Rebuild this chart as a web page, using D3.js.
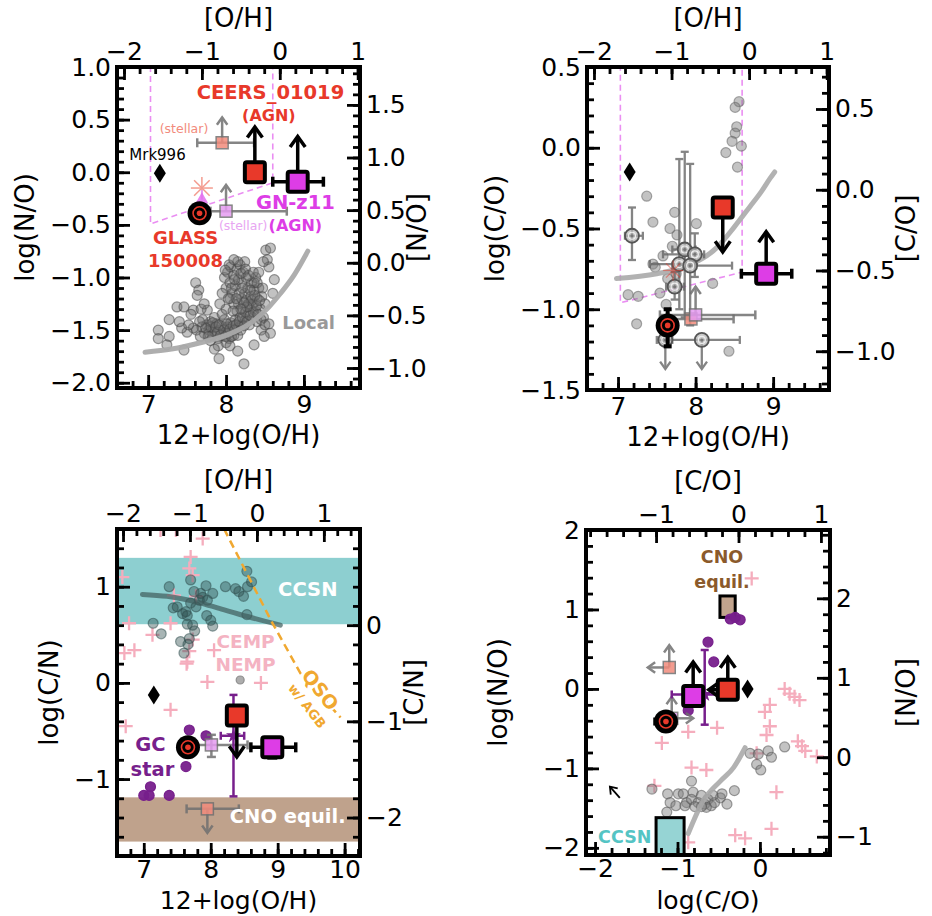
<!DOCTYPE html>
<html>
<head>
<meta charset="utf-8">
<script src="https://cdn.jsdelivr.net/npm/d3@7"></script>
<style>
  body { margin: 0; background: #fff; }
  svg { display: block; }
</style>
</head>
<body>
<script>
// ---------- data: panel 1, log(N/O) vs 12+log(O/H) ----------
const p1Local = [
  [7.75,-1.45],[7.78,-1.50],[7.80,-1.42],[7.82,-1.55],[7.84,-1.48],[7.86,-1.52],[7.88,-1.44],[7.90,-1.58],
  [7.92,-1.50],[7.94,-1.46],[7.96,-1.55],[7.98,-1.40],[8.00,-1.52],[8.02,-1.47],[8.04,-1.58],[8.06,-1.43],
  [8.08,-1.50],[8.10,-1.55],[7.85,-1.38],[7.95,-1.35],[8.00,-1.62],[7.90,-1.65],[8.05,-1.65],[7.80,-1.60],
  [7.72,-1.53],[7.70,-1.40],
  [8.12,-1.40],[8.14,-1.32],[8.15,-1.48],[8.16,-1.25],[8.18,-1.38],[8.20,-1.20],[8.20,-1.45],[8.22,-1.30],
  [8.24,-1.15],[8.25,-1.40],[8.26,-1.22],[8.28,-1.35],[8.28,-1.10],[8.30,-1.28],[8.30,-1.45],[8.32,-1.18],
  [8.33,-1.05],[8.34,-1.38],[8.35,-1.25],[8.36,-1.12],[8.38,-1.32],[8.38,-1.00],[8.40,-1.20],[8.40,-1.42],
  [8.42,-1.10],[8.44,-1.30],[8.45,-1.50],[8.46,-1.18],[8.48,-1.38],[8.50,-1.25],
  [7.98,-1.00],[8.00,-1.10],[8.02,-0.95],[8.05,-1.05],[8.06,-0.90],[8.08,-1.15],[8.10,-0.98],[8.12,-1.08],
  [8.14,-0.92],[8.16,-1.02],[8.18,-0.88],[8.20,-1.05],[8.22,-0.95],[8.24,-0.85],[8.26,-1.00],[8.05,-1.20],
  [7.95,-1.15],[8.10,-1.25],[8.00,-1.30],[7.92,-1.25],
  [7.80,-1.47],[7.83,-1.43],[7.87,-1.47],[7.89,-1.52],[7.91,-1.45],[7.93,-1.55],[7.97,-1.50],[7.99,-1.56],
  [8.01,-1.44],[8.03,-1.53],[8.05,-1.49],[8.07,-1.56],[8.09,-1.46],[8.11,-1.50],[8.13,-1.45],[8.15,-1.55],
  [8.17,-1.42],[8.19,-1.50],[8.21,-1.38],[8.23,-1.46],[8.25,-1.33],[8.27,-1.42],[8.29,-1.25],[8.31,-1.36],
  [8.33,-1.22],[8.35,-1.33],[8.37,-1.17],[8.39,-1.27],[8.41,-1.35],[8.43,-1.22],[8.36,-1.05],[8.31,-1.12],
  [8.27,-1.28],[8.23,-1.24],[8.19,-1.30],[8.17,-1.15],[8.13,-1.20],[8.09,-1.32],[8.07,-1.10],[8.03,-1.20],
  [8.11,-1.02],[8.21,-1.10],[8.19,-0.96],[8.15,-0.85],[8.25,-0.92],[8.29,-0.98],[8.04,-0.88],[7.99,-0.93],
  [8.35,-0.95],[8.40,-1.05],[8.45,-1.40],[8.50,-1.45],[8.47,-1.10],[7.74,-1.48],[7.77,-1.56],[7.69,-1.47],
  [7.66,-1.42],[7.62,-1.50],[7.58,-1.48],[7.50,-1.52],
  [7.13,-1.50],[7.13,-1.58],[7.27,-1.40],[7.27,-1.56],[7.24,-1.64],[7.37,-1.28],[7.46,-1.28],[7.46,-1.69],
  [7.43,-1.48],[7.52,-1.45],[7.61,-1.05],[7.65,-1.12],[7.63,-1.17],[7.58,-1.31],[7.76,-1.31],[7.67,-1.56],
  [7.91,-1.77],[8.23,-1.82],[8.36,-1.64],[8.10,-0.83],[8.51,-0.74],[8.57,-0.72],[8.53,-0.83],[8.55,-0.90],
  [8.62,-1.02],[8.55,-1.44],[8.57,-1.53],[8.49,-1.56],[7.55,-1.35],[7.40,-1.42],[7.68,-1.30],[7.72,-1.25],
  [8.60,-1.15],[7.85,-1.68],[8.15,-1.70],[8.42,-0.95],[8.48,-0.85]
];
const p1LocalCurve = [[6.96,-1.71],[7.3,-1.68],[7.67,-1.62],[8.0,-1.55],[8.32,-1.43],[8.55,-1.28],[8.70,-1.15],[8.88,-0.97],[9.05,-0.75]];
const p1Box = [[7.03,1.2],[7.03,-0.49],[8.6,-0.10],[8.6,1.2]];
const p1Marks = [
  {id: 'ceersStellar', x: 7.95, y: 0.28, xe: [7.63, 8.36], up: 0.52},
  {id: 'gnStellar', x: 8.0, y: -0.37, xe: [7.8, 8.78], up: -0.12},
  {id: 'glass', x: 7.66, y: -0.39, xe: [7.58, 7.76]},
  {id: 'ceersAGN', x: 8.37, y: 0.0, up: 0.43},
  {id: 'gnAGN', x: 8.92, y: -0.09, xe: [8.6, 9.25], up: 0.34},
  {id: 'mrk', x: 7.15, y: -0.01}
];
const p1Aster = [7.69, -0.15];
const p1Tri = [7.69, -0.26];

// ---------- data: panel 2, log(C/O) vs 12+log(O/H) ----------
const p2Points = [
  [8.56,0.285],[8.51,0.25],[8.53,0.13],[8.51,0.09],[8.47,0.04],[8.59,0.01],[8.39,-0.03],[8.54,-0.12],
  [7.37,-0.30],[7.45,-0.46],[7.73,-0.40],[7.67,-0.50],[8.01,-0.47],[7.76,-0.54],[7.58,-0.67],[7.45,-0.72],
  [7.48,-0.74],[7.64,-0.81],[7.13,-0.91],[7.26,-0.92],[7.54,-0.90],[7.62,-0.97],[8.22,-0.84],[7.24,-1.09],
  [8.43,-1.26],[7.75,-0.78],[7.70,-0.61]
];
// x, y, xlo, xhi, ylo, yhi
const p2ErrPoints = [
  [7.18,-0.545,7.09,7.32,-0.695,-0.37],
  [7.86,-0.63,7.70,8.00,-1.05,-0.025],
  [7.99,-0.66,7.58,8.11,-0.80,-0.53],
  [7.79,-0.72,7.41,8.00,-1.00,-0.07],
  [7.93,-0.73,7.70,8.47,-1.10,-0.10],
  [7.73,-0.86,7.62,7.85,-0.94,-0.77],
  [8.08,-1.19,7.58,8.57,-1.19,-1.19],
  [7.61,-1.19,7.50,7.70,-1.19,-1.19]
];
const p2ErrDown = [[7.61,-1.19,-1.37],[8.08,-1.19,-1.37]];
const p2Curve = [[6.98,-0.81],[7.5,-0.78],[7.9,-0.73],[8.27,-0.62],[8.5,-0.49],[8.7,-0.365],[8.85,-0.27],[8.96,-0.19],[9.02,-0.15]];
const p2Box = [[7.03,0.7],[7.03,-0.96],[8.6,-0.77],[8.6,0.7]];
const p2Marks = [
  {id: 'ceersStellar', x: 7.94, y: -1.06, xe: [7.56, 8.49]},
  {id: 'gnStellar', x: 8.0, y: -1.035, xe: [7.54, 8.77], up: -0.86},
  {id: 'glass', x: 7.64, y: -1.10, ye: [-1.23, -1.0]},
  {id: 'ceersAGN', x: 8.35, y: -0.37, down: -0.645},
  {id: 'gnAGN', x: 8.91, y: -0.78, xe: [8.59, 9.24], up: -0.52},
  {id: 'mrk', x: 7.15, y: -0.15}
];
const p2Aster = [7.71, -0.76];

// ---------- data: panel 3, log(C/N) vs 12+log(O/H) ----------
const p3Points = [
  [7.38,1.00],[7.50,0.79],[7.44,0.78],[7.63,0.74],[7.70,0.83],[7.75,0.95],[7.70,1.07],[7.78,0.79],
  [7.83,0.86],[7.93,1.01],[7.88,0.89],[7.95,0.86],[8.03,0.93],[7.94,0.70],[8.00,0.65],[7.65,0.70],
  [7.58,0.72],[7.14,0.62],[7.26,0.51],[7.65,0.61],[7.73,0.60],[7.76,0.54],[7.68,0.46],[7.55,0.43],
  [7.60,0.31],[7.66,0.40],[8.22,1.00],[8.37,0.98],[8.42,0.95],[8.49,0.90],[8.54,1.16],[8.61,1.05],
  [8.55,1.00],[8.54,0.71],[8.03,0.59],[7.85,0.93]
];
const p3Grey = [[8.44,0.03]];
const p3Curve = [[6.98,0.92],[7.35,0.90],[7.85,0.83],[8.10,0.78],[8.55,0.69],[9.04,0.60]];
const p3Plus = [
  [7.25,1.59],[7.48,1.59],[7.88,1.50],[7.70,1.31],[7.68,1.19],[7.73,1.12],[6.68,1.10],[7.45,0.91],
  [7.78,0.90],[6.78,0.62],[7.40,0.62],[7.13,0.50],[7.73,0.45],[7.68,0.33],[6.86,0.34],[6.71,0.31],
  [8.05,0.34],[7.65,0.22],[7.95,0.01],[8.75,0.00],[7.40,-0.28],[6.73,-0.45],[7.64,0.20]
];
const p3GC = [[7.68,-0.49],[7.93,-0.55],[7.63,-0.87],[7.10,-1.08],[7.00,-1.17],[7.08,-1.17],[7.38,-1.17]];
const p3CCSN = [0.61, 1.30];
const p3CNO = [-1.65, -1.19];
const p3QSO = [[8.20,1.60],[8.90,0.65],[9.34,0.10],[9.94,-0.36]];
const p3Marks = [
  {id: 'ceersStellar', x: 7.95, y: -1.31, xe: [7.64, 8.42], down: -1.56},
  {id: 'gnStellar', x: 8.01, y: -0.645, xe: [7.78, 8.55], ye: [-0.77, -0.54]},
  {id: 'gcStar', x: 8.34, y: -0.55, xe: [8.15, 8.50], ye: [-1.18, -0.125]},
  {id: 'glass', x: 7.66, y: -0.67},
  {id: 'ceersAGN', x: 8.39, y: -0.34, down: -0.77},
  {id: 'gnAGN', x: 8.92, y: -0.67, xe: [8.60, 9.27], ye: [-0.78, -0.58]},
  {id: 'mrk', x: 7.15, y: -0.125}
];

// ---------- data: panel 4, log(N/O) vs log(C/O) ----------
const p4Points = [
  [-1.13,-1.55],[-1.12,-1.32],[-1.09,-1.43],[-1.02,-1.47],[-0.99,-1.32],[-0.93,-1.32],[-0.89,-1.43],[-0.91,-1.47],
  [-0.83,-1.16],[-0.81,-1.30],[-0.83,-1.39],[-0.75,-1.43],[-0.71,-1.34],[-0.67,-1.45],[-0.63,-1.39],[-0.59,-1.47],
  [-0.55,-1.43],[-0.48,-1.37],[-0.46,-1.32],[-0.40,-1.45],[-0.31,-1.28],[-0.57,-1.34],[-0.65,-1.49],[-0.71,-1.48],
  [-0.79,-1.48],[-0.12,-0.81],[-0.02,-0.82],[0.10,-0.78],[0.14,-0.86],[0.30,-0.73],[-0.04,-0.95],[0.01,-1.02],
  [-1.31,-1.26]
];
const p4Curve = [[-0.87,-1.82],[-0.69,-1.41],[-0.48,-1.16],[-0.32,-0.99],[-0.18,-0.74]];
const p4Plus = [
  [0.30,0.00],[0.36,-0.06],[0.42,-0.10],[0.48,-0.14],[0.12,-0.20],[0.06,-0.29],[0.12,-0.47],[0.08,-0.58],
  [0.46,-0.66],[0.51,-0.72],[0.55,-0.78],[0.69,-0.85],[-0.04,-0.81],[0.20,-1.30],[0.14,-1.76],[-0.30,-1.84],
  [-0.18,-1.88],[-0.87,-1.93],[-0.83,-0.99],[-0.65,-1.02],[-1.28,-1.22],[-1.19,-0.68],[-0.87,-0.54],[-0.52,-0.49],
  [-0.10,1.39]
];
const p4GC = [[-0.63,0.59],[-0.56,0.34],[-0.36,0.88],[-0.24,0.87],[-0.30,0.90],[-0.87,-0.27],[-1.07,-0.37]];
const p4CNOBox = [[-0.485, 0.90], [-0.30, 1.17]];
const p4CCSNBox = [[-1.26, -2.2], [-0.92, -1.62]];
const p4Hint = [[-1.70,-1.37],[-1.82,-1.23]];
const p4Marks = [
  {id: 'ceersStellar', x: -1.10, y: 0.27, left: -1.36, up: 0.55},
  {id: 'gnStellar', x: -1.07, y: -0.37, right: -0.81, up: -0.10},
  {id: 'gcStar', x: -0.67, y: -0.07, xe: [-1.07, -0.40], ye: [-0.45, 0.49]},
  {id: 'glass', x: -1.14, y: -0.41, xe: [-1.27, -1.05]},
  {id: 'ceersAGN', x: -0.39, y: -0.01, up: 0.40, left: -0.62},
  {id: 'gnAGN', x: -0.81, y: -0.09, up: 0.34},
  {id: 'mrk', x: -0.15, y: 0.0}
];

// ---------- styles ----------
const RED = '#e8392a', MAG = '#dd3de6', PURPLE = '#771f8c', PINK = '#f5adbd';
const STYLE = {
  ceersStellar: {shape: 'sq', size: 12, fill: '#f28b7c', stroke: '#707070', sw: 1.5, err: '#707070', ew: 2.5, cap: 9, op: 0.85},
  gnStellar: {shape: 'sq', size: 12, fill: '#e69cf2', stroke: '#707070', sw: 1.5, err: '#707070', ew: 2.5, cap: 9, op: 0.85},
  glass: {shape: 'glass', err: '#000', ew: 4, cap: 8, op: 1},
  ceersAGN: {shape: 'sq', size: 20, fill: RED, stroke: '#000', sw: 4, err: '#000', ew: 3.5, cap: 10, op: 1},
  gnAGN: {shape: 'sq', size: 20, fill: MAG, stroke: '#000', sw: 4, err: '#000', ew: 3.5, cap: 10, op: 1},
  gcStar: {shape: 'star', fill: PURPLE, err: PURPLE, ew: 2.5, cap: 8, op: 1},
  mrk: {shape: 'diamond'}
};

const svg = d3.select('body').append('svg')
  .attr('width', 932).attr('height', 916)
  .attr('font-family', 'DejaVu Sans');
const defs = svg.append('defs');

function ticksBy(dom, step) {
  const out = [];
  for (let k = Math.ceil(dom[0] / step - 1e-6); k <= Math.floor(dom[1] / step + 1e-6); k++) out.push(+(k * step).toFixed(4));
  return out;
}

function makePanel(p) {
  const w = p.right - p.left, h = p.bottom - p.top;
  const g = svg.append('g').attr('transform', `translate(${p.left},${p.top})`);
  const x = d3.scaleLinear().domain(p.xDom).range([0, w]);
  const y = d3.scaleLinear().domain(p.yDom).range([h, 0]);
  defs.append('clipPath').attr('id', 'clip' + p.id)
    .append('rect').attr('width', w).attr('height', h);
  const plot = g.append('g').attr('clip-path', `url(#clip${p.id})`);
  return {g, plot, x, y, w, h, p};
}

function side(g, axisFn, scale, tr, maj, minStep, fmt, pad) {
  const mk = () => { const s = g.append('g'); if (tr) s.attr('transform', tr); return s; };
  const a = mk().call(axisFn(scale).tickValues(ticksBy(scale.domain(), minStep)).tickSize(-7).tickFormat(''));
  const b = mk().call(axisFn(scale).tickValues(maj).tickSize(-13).tickPadding(pad).tickFormat(fmt));
  [a, b].forEach(s => {
    s.select('.domain').remove();
    s.selectAll('line').attr('stroke-width', 2.8);
    s.attr('font-size', 25).attr('font-family', 'DejaVu Sans');
  });
}

function axes(P, s) {
  const {g, x, y, w, h} = P;
  const xt = d3.scaleLinear().domain(x.domain().map(v => v + s.topOff)).range([0, w]);
  const yr = d3.scaleLinear().domain(y.domain().map(v => v + s.rightOff)).range([h, 0]);
  side(g, d3.axisBottom, x, `translate(0,${h})`, s.xMaj, s.xMin, s.xFmt, s.xPad);
  side(g, d3.axisTop, xt, null, s.tMaj, s.tMin, d3.format('d'), 7);
  side(g, d3.axisLeft, y, null, s.yMaj, s.yMin, s.yFmt, 6);
  side(g, d3.axisRight, yr, `translate(${w},0)`, s.rMaj, s.rMin, s.rFmt, 6);
  g.append('rect').attr('width', w).attr('height', h)
    .attr('fill', 'none').attr('stroke', '#000').attr('stroke-width', 4);
  const lab = (t, tx, ty, rot, size) => g.append('text').text(t)
    .attr('transform', `translate(${tx},${ty})` + (rot ? ' rotate(-90)' : ''))
    .attr('text-anchor', 'middle').attr('dominant-baseline', 'central')
    .attr('font-size', size || 26).attr('fill', '#000');
  lab(s.labels[0], w / 2, h + s.bottomY, false, s.bottomSize);
  lab(s.labels[1], w / 2, -49, false);
  lab(s.labels[2], s.leftX, h / 2, true);
  lab(s.labels[3], w + s.rightX, h / 2, true);
}

function arrow(sel, x1, y1, x2, y2, color, sw, op, head) {
  const L = head || 11, ang = Math.atan2(y2 - y1, x2 - x1), a = 0.62;
  const gg = sel.append('g').attr('stroke', color).attr('stroke-width', sw)
    .attr('fill', 'none').attr('opacity', op).attr('stroke-linecap', 'butt');
  gg.append('line').attr('x1', x1).attr('y1', y1).attr('x2', x2).attr('y2', y2);
  gg.append('polyline').attr('stroke-linejoin', 'miter').attr('points', [
    [x2 - L * Math.cos(ang - a), y2 - L * Math.sin(ang - a)], [x2, y2],
    [x2 - L * Math.cos(ang + a), y2 - L * Math.sin(ang + a)]
  ].map(q => q.join(',')).join(' '));
}

function errX(sel, x0, x1, yy, color, sw, cap, op) {
  const gg = sel.append('g').attr('stroke', color).attr('stroke-width', sw).attr('opacity', op);
  gg.append('line').attr('x1', x0).attr('x2', x1).attr('y1', yy).attr('y2', yy);
  if (cap) [x0, x1].forEach(v => gg.append('line').attr('x1', v).attr('x2', v).attr('y1', yy - cap / 2).attr('y2', yy + cap / 2));
}
function errY(sel, xx, y0, y1, color, sw, cap, op) {
  const gg = sel.append('g').attr('stroke', color).attr('stroke-width', sw).attr('opacity', op);
  gg.append('line').attr('x1', xx).attr('x2', xx).attr('y1', y0).attr('y2', y1);
  if (cap) [y0, y1].forEach(v => gg.append('line').attr('y1', v).attr('y2', v).attr('x1', xx - cap / 2).attr('x2', xx + cap / 2));
}

function drawMarks(P, marks) {
  const s = P.plot;
  marks.forEach(m => {
    const st = STYLE[m.id];
    const cx = P.x(m.x), cy = P.y(m.y);
    const big = st.shape === 'sq' && st.size > 15;
    if (m.xe) errX(s, P.x(m.xe[0]), P.x(m.xe[1]), cy, st.err, st.ew, st.cap, st.op);
    if (m.ye) errY(s, cx, P.y(m.ye[0]), P.y(m.ye[1]), st.err, st.ew, st.cap, st.op);
    const hd = big ? 13 : 9;
    if (m.up != null) arrow(s, cx, cy, cx, P.y(m.up), st.err, st.ew, st.op, hd);
    if (m.down != null) arrow(s, cx, cy, cx, P.y(m.down), st.err, st.ew, st.op, hd);
    if (m.left != null) arrow(s, cx, cy, P.x(m.left), cy, st.err, st.ew, st.op, hd);
    if (m.right != null) arrow(s, cx, cy, P.x(m.right), cy, st.err, st.ew, st.op, hd);
    if (st.shape === 'sq') {
      s.append('rect').attr('x', cx - st.size / 2).attr('y', cy - st.size / 2)
        .attr('width', st.size).attr('height', st.size).attr('rx', big ? 2 : 0)
        .attr('fill', st.fill).attr('stroke', st.stroke).attr('stroke-width', st.sw)
        .attr('opacity', st.op);
    } else if (st.shape === 'glass') {
      s.append('circle').attr('cx', cx).attr('cy', cy).attr('r', 12).attr('fill', '#000');
      s.append('circle').attr('cx', cx).attr('cy', cy).attr('r', 6.5).attr('fill', 'none')
        .attr('stroke', RED).attr('stroke-width', 1.6);
      s.append('circle').attr('cx', cx).attr('cy', cy).attr('r', 2.8).attr('fill', RED);
    } else if (st.shape === 'star') {
      s.append('path').attr('transform', `translate(${cx},${cy})`)
        .attr('d', d3.symbol(d3.symbolStar, 70)()).attr('fill', st.fill);
    } else if (st.shape === 'diamond') {
      s.append('path').attr('d', `M${cx},${cy - 9.5}L${cx + 6},${cy}L${cx},${cy + 9.5}L${cx - 6},${cy}Z`)
        .attr('fill', '#000');
    }
  });
}

function dots(P, data, fill, stroke, r, op) {
  P.plot.append('g').selectAll('circle').data(data).join('circle')
    .attr('cx', d => P.x(d[0])).attr('cy', d => P.y(d[1])).attr('r', r)
    .attr('fill', fill).attr('fill-opacity', op)
    .attr('stroke', stroke).attr('stroke-opacity', op + 0.1).attr('stroke-width', 1.2);
}
function pluses(P, data) {
  P.plot.append('g').attr('stroke', PINK).attr('stroke-width', 2.3)
    .selectAll('path').data(data).join('path')
    .attr('d', d => { const a = P.x(d[0]), b = P.y(d[1]); return `M${a - 7},${b}H${a + 7}M${a},${b - 7}V${b + 7}`; });
}
function curve(P, data, color, width, op) {
  P.plot.append('path').datum(data)
    .attr('d', d3.line().x(d => P.x(d[0])).y(d => P.y(d[1])).curve(d3.curveMonotoneX))
    .attr('fill', 'none').attr('stroke', color).attr('stroke-width', width)
    .attr('stroke-opacity', op).attr('stroke-linecap', 'round');
}
function boxLine(P, data) {
  P.plot.append('path').datum(data)
    .attr('d', d3.line().x(d => P.x(d[0])).y(d => P.y(d[1])))
    .attr('fill', 'none').attr('stroke', '#ea8ef2').attr('stroke-width', 1.6)
    .attr('stroke-dasharray', '6,4');
}
function aster(P, d, color, r, sw, op) {
  const cx = P.x(d[0]), cy = P.y(d[1]);
  const gg = P.plot.append('g').attr('stroke', color).attr('stroke-width', sw).attr('opacity', op);
  for (let k = 0; k < 4; k++) {
    const a = k * Math.PI / 4;
    gg.append('line').attr('x1', cx - r * Math.cos(a)).attr('y1', cy - r * Math.sin(a))
      .attr('x2', cx + r * Math.cos(a)).attr('y2', cy + r * Math.sin(a));
  }
}
function note(P, t, d, color, size, weight, rot) {
  const tx = P.x(d[0]), ty = P.y(d[1]);
  return P.g.append('text').text(t)
    .attr('transform', `translate(${tx},${ty})` + (rot ? ` rotate(${rot})` : ''))
    .attr('text-anchor', 'middle').attr('dominant-baseline', 'central')
    .attr('fill', color).attr('font-size', size).attr('font-weight', weight || 'normal');
}

const f1 = d3.format('.1f'), fd = d3.format('d');

// ---------- panel 1 ----------
const P1 = makePanel({id: 1, left: 117, right: 360, top: 67, bottom: 388, xDom: [6.6, 9.72], yDom: [-2.05, 1.0]});
boxLine(P1, p1Box);
dots(P1, p1Local, '#6e6e6e', '#444', 5, 0.42);
curve(P1, p1LocalCurve, '#aaaaaa', 5, 0.95);
aster(P1, p1Aster, '#f28b7c', 11, 1.5, 0.85);
P1.plot.append('line').attr('x1', P1.x(p1Tri[0])).attr('x2', P1.x(p1Aster[0]))
  .attr('y1', P1.y(p1Tri[1])).attr('y2', P1.y(p1Aster[1]) + 2)
  .attr('stroke', '#e69cf2').attr('stroke-width', 2);
P1.plot.append('path').attr('transform', `translate(${P1.x(p1Tri[0])},${P1.y(p1Tri[1])})`)
  .attr('d', d3.symbol(d3.symbolTriangle, 70)()).attr('fill', '#e36ff0').attr('opacity', 0.85);
drawMarks(P1, p1Marks);
axes(P1, {xMaj: [7, 8, 9], xMin: 0.2, xFmt: fd, xPad: 7, topOff: -8.69, tMaj: [-2, -1, 0, 1], tMin: 0.2,
  yMaj: [-2, -1.5, -1, -0.5, 0, 0.5, 1], yMin: 0.1, yFmt: f1,
  rightOff: 0.86, rMaj: [-1, -0.5, 0, 0.5, 1, 1.5], rMin: 0.1, rFmt: f1,
  labels: ['12+log(O/H)', '[O/H]', 'log(N/O)', '[N/O]'], leftX: -92, rightX: 57, bottomY: 47});
note(P1, 'CEERS_01019', [8.57, 0.76], RED, 19.5, 'bold');
note(P1, '(AGN)', [8.55, 0.54], RED, 16, 'bold');
note(P1, '(stellar)', [7.46, 0.42], '#f28b7c', 12.5);
note(P1, 'Mrk996', [7.12, 0.16], '#000', 15);
note(P1, 'GN-z11', [8.89, -0.29], MAG, 19.5, 'bold');
note(P1, '(stellar)', [8.22, -0.51], '#e8a6f2', 12.5);
note(P1, '(AGN)', [8.89, -0.51], MAG, 16, 'bold');
note(P1, 'GLASS', [7.48, -0.62], RED, 18, 'bold');
note(P1, '150008', [7.48, -0.84], RED, 18, 'bold');
note(P1, 'Local', [9.06, -1.43], '#999', 18, 'bold');

// ---------- panel 2 ----------
const P2 = makePanel({id: 2, left: 587, right: 829, top: 67, bottom: 390, xDom: [6.6, 9.72], yDom: [-1.5, 0.5]});
boxLine(P2, p2Box);
dots(P2, p2Points, '#7a7a7a', '#666', 5, 0.45);
curve(P2, p2Curve, '#aaaaaa', 5, 0.9);
p2ErrPoints.forEach(d => {
  if (d[2] !== d[3]) errX(P2.plot, P2.x(d[2]), P2.x(d[3]), P2.y(d[1]), '#666', 2.3, 8, 0.8);
  if (d[4] !== d[5]) errY(P2.plot, P2.x(d[0]), P2.y(d[4]), P2.y(d[5]), '#666', 2.3, 8, 0.8);
});
p2ErrDown.forEach(d => arrow(P2.plot, P2.x(d[0]), P2.y(d[1]), P2.x(d[0]), P2.y(d[2]), '#666', 2.3, 0.8, 9));
p2ErrPoints.forEach(d => {
  const cx = P2.x(d[0]), cy = P2.y(d[1]);
  P2.plot.append('circle').attr('cx', cx).attr('cy', cy).attr('r', 7)
    .attr('fill', '#b5b5b5').attr('fill-opacity', 0.7).attr('stroke', '#555').attr('stroke-width', 1.8);
  P2.plot.append('circle').attr('cx', cx).attr('cy', cy).attr('r', 3.5)
    .attr('fill', 'none').attr('stroke', '#eee').attr('stroke-width', 1.2);
  P2.plot.append('circle').attr('cx', cx).attr('cy', cy).attr('r', 1.5).attr('fill', '#777');
});
aster(P2, p2Aster, RED, 10, 1.2, 0.5);
drawMarks(P2, p2Marks);
axes(P2, {xMaj: [7, 8, 9], xMin: 0.2, xFmt: fd, xPad: 7, topOff: -8.69, tMaj: [-2, -1, 0, 1], tMin: 0.2,
  yMaj: [-1.5, -1, -0.5, 0, 0.5], yMin: 0.1, yFmt: f1,
  rightOff: 0.26, rMaj: [-1, -0.5, 0, 0.5], rMin: 0.1, rFmt: f1,
  labels: ['12+log(O/H)', '[O/H]', 'log(C/O)', '[C/O]'], leftX: -92, rightX: 77, bottomY: 47});

// ---------- panel 3 ----------
const P3 = makePanel({id: 3, left: 117, right: 360, top: 529, bottom: 856, xDom: [6.6, 10.23], yDom: [-1.8, 1.6]});
P3.plot.append('rect').attr('x', 0).attr('width', P3.w)
  .attr('y', P3.y(p3CCSN[1])).attr('height', P3.y(p3CCSN[0]) - P3.y(p3CCSN[1])).attr('fill', '#8dcfd0');
P3.plot.append('rect').attr('x', 0).attr('width', P3.w)
  .attr('y', P3.y(p3CNO[1])).attr('height', P3.y(p3CNO[0]) - P3.y(p3CNO[1])).attr('fill', '#bfa28c');
pluses(P3, p3Plus);
dots(P3, p3Points, '#2f4f4f', '#2f4f4f', 5, 0.42);
dots(P3, p3Grey, '#999', '#888', 4, 0.8);
curve(P3, p3Curve, '#3e5b5b', 5, 0.7);
dots(P3, p3GC, PURPLE, PURPLE, 5, 0.95);
P3.plot.append('path').datum(p3QSO)
  .attr('d', d3.line().x(d => P3.x(d[0])).y(d => P3.y(d[1])))
  .attr('fill', 'none').attr('stroke', '#f0a830').attr('stroke-width', 2.5).attr('stroke-dasharray', '8,5');
drawMarks(P3, p3Marks);
axes(P3, {xMaj: [7, 8, 9, 10], xMin: 0.2, xFmt: fd, xPad: 4, topOff: -8.69, tMaj: [-2, -1, 0, 1], tMin: 0.2,
  yMaj: [-1, 0, 1], yMin: 0.2, yFmt: fd,
  rightOff: -0.6, rMaj: [-2, -1, 0], rMin: 0.2, rFmt: fd,
  labels: ['12+log(O/H)', '[O/H]', 'log(C/N)', '[C/N]'], leftX: -68, rightX: 54, bottomY: 44, bottomSize: 25});
note(P3, 'CCSN', [9.45, 0.97], '#fff', 19.5, 'bold');
note(P3, 'CNO equil.', [9.15, -1.39], '#fff', 19.5, 'bold');
note(P3, 'CEMP', [8.52, 0.43], '#f4b3c2', 18.5, 'bold');
note(P3, 'NEMP', [8.52, 0.19], '#f4b3c2', 18.5, 'bold');
note(P3, 'GC', [7.10, -0.64], PURPLE, 19.5, 'bold');
note(P3, 'star', [7.13, -0.90], PURPLE, 19.5, 'bold');
note(P3, 'QSO', [9.64, -0.07], '#f0a830', 19, 'bold', 52)
  .attr('stroke', '#fff').attr('stroke-width', 4).attr('paint-order', 'stroke');
note(P3, 'w/ AGB', [9.44, -0.24], '#f0a830', 13, 'bold', 52);

// ---------- panel 4 ----------
const P4 = makePanel({id: 4, left: 586, right: 830, top: 530, bottom: 855, xDom: [-2.11, 0.85], yDom: [-2.09, 2.0]});
pluses(P4, p4Plus);
dots(P4, p4Points, '#7a7a7a', '#555', 5, 0.45);
curve(P4, p4Curve, '#aaaaaa', 5, 0.9);
[[p4CNOBox, '#c2a48d'], [p4CCSNBox, '#96d4d4']].forEach(([b, c]) => {
  P4.plot.append('rect').attr('x', P4.x(b[0][0])).attr('width', P4.x(b[1][0]) - P4.x(b[0][0]))
    .attr('y', P4.y(b[1][1])).attr('height', P4.y(b[0][1]) - P4.y(b[1][1]))
    .attr('fill', c).attr('stroke', '#000').attr('stroke-width', 3);
});
dots(P4, p4GC, PURPLE, PURPLE, 5, 0.95);
arrow(P4.plot, P4.x(p4Hint[0][0]), P4.y(p4Hint[0][1]), P4.x(p4Hint[1][0]), P4.y(p4Hint[1][1]), '#000', 1.8, 1, 8);
drawMarks(P4, p4Marks);
axes(P4, {xMaj: [-2, -1, 0], xMin: 0.2, xFmt: fd, xPad: 4, topOff: 0.26, tMaj: [-1, 0, 1], tMin: 0.2,
  yMaj: [-2, -1, 0, 1, 2], yMin: 0.2, yFmt: fd,
  rightOff: 0.86, rMaj: [-1, 0, 1, 2], rMin: 0.2, rFmt: fd,
  labels: ['log(C/O)', '[C/O]', 'log(N/O)', '[N/O]'], leftX: -88, rightX: 76, bottomY: 45, bottomSize: 25});
note(P4, 'CNO', [-0.46, 1.66], '#8b5a2b', 17.5, 'bold');
note(P4, 'equil.', [-0.46, 1.35], '#8b5a2b', 17.5, 'bold');
note(P4, 'CCSN', [-1.64, -1.86], '#55c4c4', 17.5, 'bold');
</script>
</body>
</html>
